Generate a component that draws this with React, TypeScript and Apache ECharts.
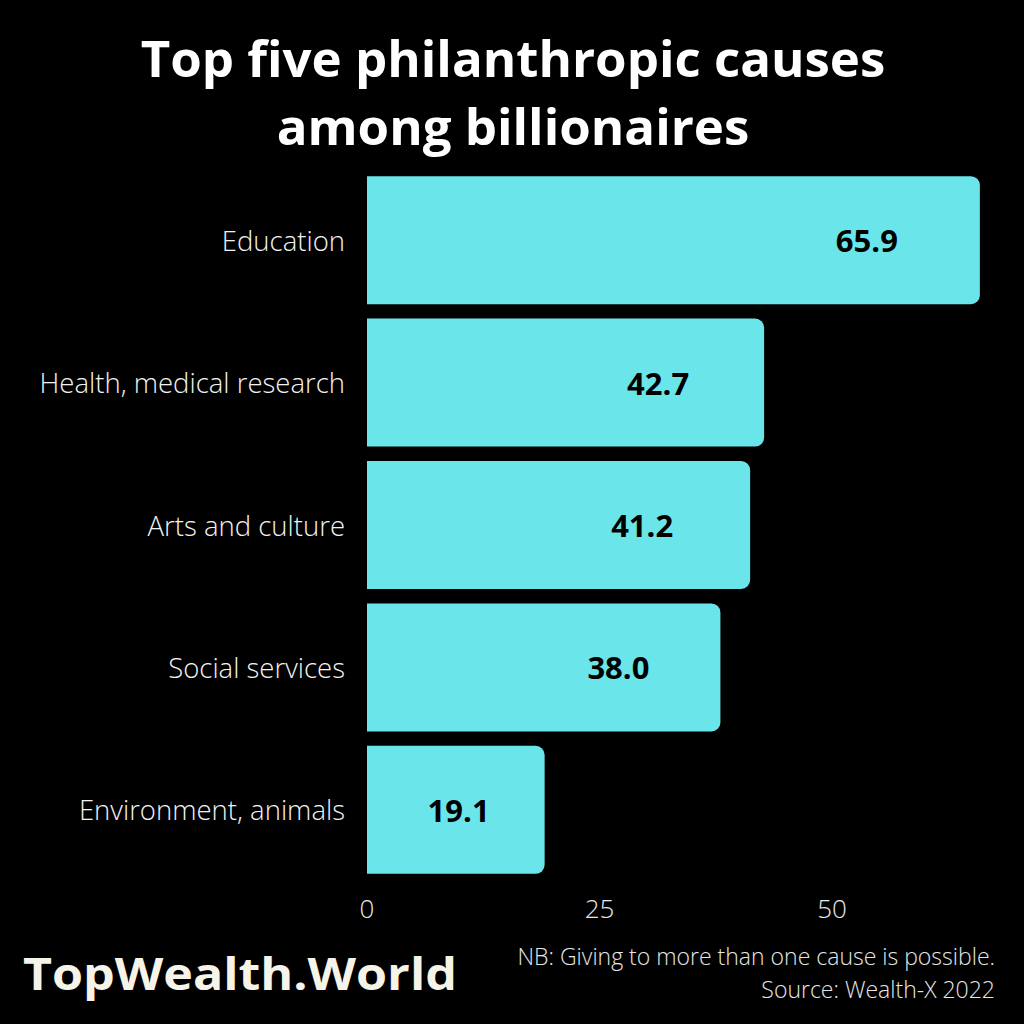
import React, { useEffect, useRef } from "react";
import * as echarts from "echarts";

const categories = [
  "Education",
  "Health, medical research",
  "Arts and culture",
  "Social services",
  "Environment, animals",
];
const values = [65.9, 42.7, 41.2, 38.0, 19.1];
const xTicks = [0, 25, 50];
const titleLines = ["Top five philanthropic causes", "among billionaires"];
const brand = "TopWealth.World";
const notes = ["NB: Giving to more than one cause is possible.", "Source: Wealth-X 2022"];

// label distance from bar end (style only)
const labelDistances = [82, 75, 77, 71, 55];

const FONT = "'Open Sans', sans-serif";

export default function App() {
  const ref = useRef<HTMLDivElement>(null);
  useEffect(() => {
    document.body.style.margin = "0";
    document.body.style.background = "#000";
    const chart = echarts.init(ref.current!, null, { renderer: "svg" });
    chart.setOption({
      animation: false,
      backgroundColor: "#000000",
      title: {
        text: titleLines.join("\n"),
        left: 508,
        textAlign: "center",
        top: 18,
        textStyle: {
          color: "#ffffff",
          fontFamily: FONT,
          fontWeight: "bold",
          fontSize: 51,
          lineHeight: 68,
        },
      },
      grid: { left: 367, top: 169, width: 651, height: 712, containLabel: false },
      xAxis: {
        type: "value",
        min: 0,
        max: 70,
        interval: 25,
        axisLine: { show: false },
        axisTick: { show: false },
        splitLine: { show: false },
        axisLabel: {
          showMaxLabel: false,
          color: "#e8e8e8",
          fontFamily: FONT,
          fontWeight: 300,
          fontSize: 26,
          margin: 14,
          formatter: (v: number) => (xTicks.includes(v) ? String(v) : ""),
        },
      },
      yAxis: {
        type: "category",
        data: categories,
        inverse: true,
        axisLine: { show: false },
        axisTick: { show: false },
        axisLabel: {
          color: "#f2f2f2",
          fontFamily: FONT,
          fontWeight: 300,
          fontSize: 27.5,
          margin: 22,
        },
      },
      series: [
        {
          type: "bar",
          barWidth: 128,
          data: values.map((v, i) => ({
            value: v,
            label: { distance: labelDistances[i] },
          })),
          itemStyle: { color: "#6ae6ea", borderRadius: [0, 9, 9, 0] },
          label: {
            show: true,
            position: "insideRight",
            formatter: (p: any) => p.value.toFixed(1),
            color: "#000000",
            fontFamily: FONT,
            fontWeight: "bold",
            fontSize: 31,
          },
        },
      ],
      graphic: [
        {
          type: "text",
          x: 23,
          y: 951,
          scaleX: 1.14,
          style: {
            text: brand,
            fill: "#f6f4e8",
            font: `bold 44px ${FONT}`,
          },
        },
        {
          type: "text",
          right: 29,
          top: 944,
          style: {
            text: notes[0],
            fill: "#e6e6e6",
            font: `300 23px ${FONT}`,
            textAlign: "right",
          },
        },
        {
          type: "text",
          right: 29,
          top: 977,
          style: {
            text: notes[1],
            fill: "#e6e6e6",
            font: `300 23px ${FONT}`,
            textAlign: "right",
          },
        },
      ],
    });
    return () => chart.dispose();
  }, []);
  return <div ref={ref} style={{ width: 1024, height: 1024 }} />;
}
